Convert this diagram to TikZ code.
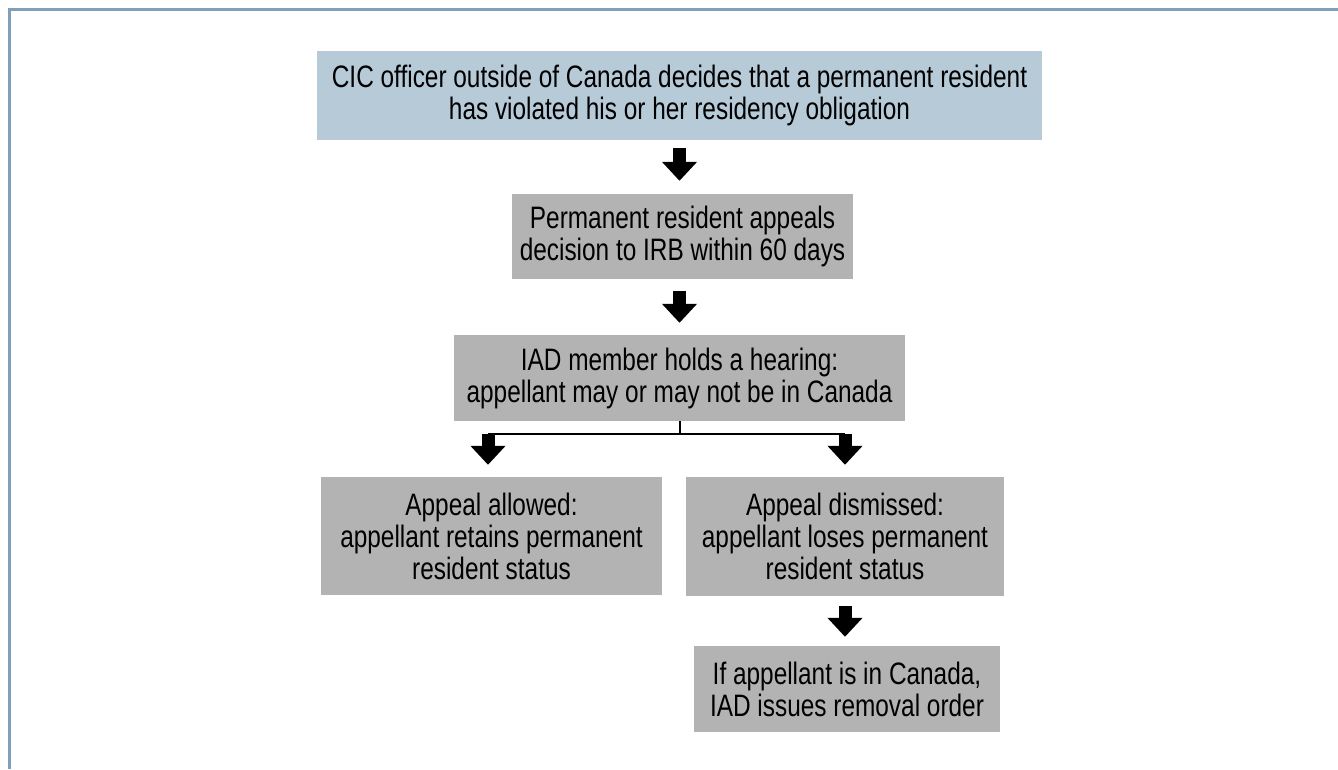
\documentclass[tikz,border=0pt]{standalone}
\usepackage{fontspec}
\setmainfont{Liberation Sans}[FakeStretch=0.787]
\usetikzlibrary{arrows.meta}
\definecolor{framecol}{RGB}{128,160,185}
\definecolor{topblue}{RGB}{183,202,216}
\definecolor{boxgray}{RGB}{179,179,179}
\tikzset{
	stepbox/.style={fill=boxgray, inner sep=0pt, align=center, font=\fontsize{31}{32}\selectfont},
	bigarrow/.style={line width=13pt, -{Triangle[width=34pt,length=19pt]}},
}
\begin{document}
\begin{tikzpicture}[x=1pt,y=1pt]
	\useasboundingbox (0,0) rectangle (1338,-769);
	% Frame
	\draw [framecol, line width=3pt] (9,-769) -- (9,-9) -- (1338,-9);
	% Boxes
	\node [stepbox, fill=topblue, minimum width=725pt, minimum height=89pt] (cic) at (679.5,-95.5) {CIC officer outside of Canada decides that a permanent resident\\has violated his or her residency obligation};
	\node [stepbox, minimum width=341pt, minimum height=85pt] (appeal) at (682.5,-236.5) {Permanent resident appeals\\decision to IRB within 60 days};
	\node [stepbox, minimum width=451pt, minimum height=86pt] (hearing) at (679.5,-378) {IAD member holds a hearing:\\appellant may or may not be in Canada};
	\node [stepbox, minimum width=341pt, minimum height=118pt] (allowed) at (491.5,-536) {Appeal allowed:\\appellant retains permanent\\resident status};
	\node [stepbox, minimum width=318pt, minimum height=119pt] (dismissed) at (845,-536.5) {Appeal dismissed:\\appellant loses permanent\\resident status};
	\node [stepbox, minimum width=306pt, minimum height=86pt] (removal) at (847,-689) {If appellant is in Canada,\\IAD issues removal order};
	% Arrows
	\draw [bigarrow, shorten <=8pt, shorten >=13pt] (cic.south) -- (cic.south |- appeal.north);
	\draw [bigarrow, shorten <=12pt, shorten >=12pt] (cic.south |- appeal.south) -- (cic.south |- hearing.north);
	% Fork
	\draw [line width=2pt] (hearing.south) -- ++(0,-13) coordinate (fork);
	\draw [line width=2pt] ([xshift=-3.5pt]fork -| allowed.north) -- (fork -| dismissed.north);
	\draw [bigarrow, shorten >=12pt] ([xshift=-3.5pt]fork -| allowed.north) -- ([xshift=-3.5pt]allowed.north);
	\draw [bigarrow, shorten >=12pt] (fork -| dismissed.north) -- (dismissed.north);
	\draw [bigarrow, shorten <=10pt, shorten >=9pt] (dismissed.south) -- (dismissed.south |- removal.north);
\end{tikzpicture}
\end{document}
